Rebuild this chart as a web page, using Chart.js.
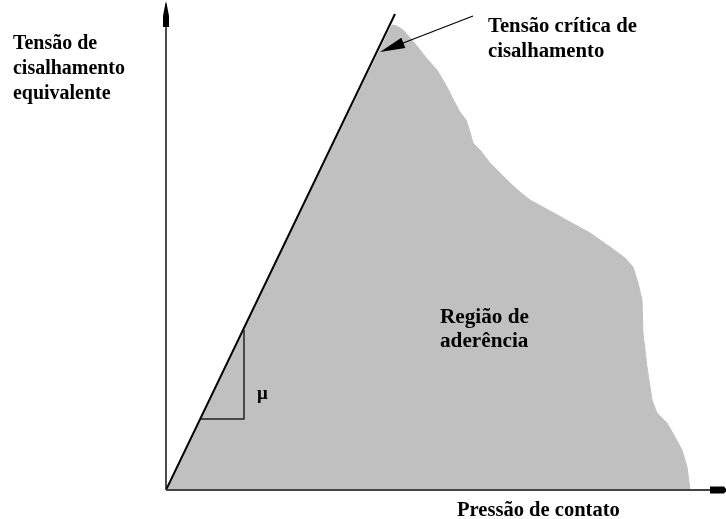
<!DOCTYPE html>
<html>
<head>
<meta charset="utf-8">
<script src="https://cdn.jsdelivr.net/npm/chart.js@4/dist/chart.umd.min.js"></script>
<style>
  html, body { margin: 0; padding: 0; background: #ffffff; }
  #wrap { width: 726px; height: 519px; }
</style>
</head>
<body>
<div id="wrap"><canvas id="c" width="726" height="519"></canvas></div>
<script>
// ---- Data (pressure = x, equivalent shear stress = y; origin at axes crossing) ----
// Upper boundary of the adhesion region
const regionPressure = [0, 226, 231, 237, 246, 254, 262, 271, 281, 289, 294, 300, 304, 307, 314, 324, 334, 344, 354, 364, 384, 404, 424, 444, 459, 467, 472, 476, 477, 481, 486, 491, 501, 509, 516, 521, 524];
const regionShear    = [0, 465, 464, 460, 450, 440, 430, 420, 403, 387, 378, 370, 358, 347, 340, 327, 317, 307, 298, 290, 279, 268, 257, 243, 232, 223, 207, 190, 157, 123, 90, 77, 67, 53, 40, 23, 0];
// Friction line tau = mu * p
const frictionPressure = [0, 229];
const frictionShear    = [0, 476];
// Slope triangle (mu)
const slopePressure = [35, 78, 78];
const slopeShear    = [71, 71, 160];
// Axis extents
const xMax = 560, yMax = 490;

// Texts
const yAxisLabel = ["Tensão de", "cisalhamento", "equivalente"];
const xAxisLabel = "Pressão de contato";
const criticalLabel = ["Tensão crítica de", "cisalhamento"];
const regionLabel = ["Região de", "aderência"];
const muLabel = "μ";

function toPts(xs, ys) { return xs.map((x, i) => ({ x: x, y: ys[i] })); }

function fitSize(ctx, text, family, width) {
  ctx.font = "bold 20px " + family;
  return 20 * width / ctx.measureText(text).width;
}

const overlay = {
  id: 'overlay',
  afterDatasetsDraw(chart) {
    const ctx = chart.ctx;
    const xs = chart.scales.x, ys = chart.scales.y;
    const X = v => xs.getPixelForValue(v), Y = v => ys.getPixelForValue(v);
    const ox = X(0), oy = Y(0);
    ctx.save();
    // y axis
    ctx.strokeStyle = '#111';
    ctx.lineWidth = 1.5;
    ctx.beginPath(); ctx.moveTo(ox, oy); ctx.lineTo(ox, Y(yMax) + 4); ctx.stroke();
    // x axis
    ctx.strokeStyle = '#444';
    ctx.lineWidth = 2;
    ctx.beginPath(); ctx.moveTo(ox, oy); ctx.lineTo(X(xMax) - 10, oy); ctx.stroke();
    // y arrow head
    ctx.fillStyle = '#000';
    const ty = Y(yMax) + 1;
    ctx.beginPath();
    ctx.moveTo(ox, ty);
    ctx.lineTo(ox + 1.5, ty + 7);
    ctx.lineTo(ox + 3, ty + 15);
    ctx.lineTo(ox + 3, ty + 26);
    ctx.lineTo(ox - 3, ty + 26);
    ctx.lineTo(ox - 3, ty + 15);
    ctx.lineTo(ox - 1.5, ty + 7);
    ctx.closePath(); ctx.fill();
    // x arrow head
    const tx = X(xMax) + 1;
    ctx.beginPath();
    ctx.moveTo(tx, oy);
    ctx.lineTo(tx - 3, oy - 3.5);
    ctx.lineTo(tx - 17, oy - 3.5);
    ctx.lineTo(tx - 17, oy + 3.5);
    ctx.lineTo(tx - 3, oy + 3.5);
    ctx.closePath(); ctx.fill();

    // pointer to critical shear stress
    const sx = 473, sy = 16, px = 380, py = 52;
    const dx = sx - px, dy = sy - py, L = Math.hypot(dx, dy);
    const ux = dx / L, uy = dy / L;
    ctx.strokeStyle = '#000'; ctx.lineWidth = 1.2;
    ctx.beginPath(); ctx.moveTo(sx, sy); ctx.lineTo(px + ux * 20, py + uy * 20); ctx.stroke();
    const bx = px + ux * 25, by = py + uy * 25;
    ctx.beginPath();
    ctx.moveTo(px, py);
    ctx.lineTo(bx - uy * 5.5, by + ux * 5.5);
    ctx.lineTo(bx + uy * 5.5, by - ux * 5.5);
    ctx.closePath(); ctx.fill();

    // texts
    ctx.fillStyle = '#000';
    ctx.textBaseline = 'alphabetic';
    ctx.textAlign = 'left';
    const serif = '"Liberation Serif"';
    let s = fitSize(ctx, yAxisLabel[1], serif, 112);
    ctx.font = 'bold ' + s + 'px ' + serif;
    yAxisLabel.forEach((t, i) => ctx.fillText(t, 13, 49 + i * 25));

    s = fitSize(ctx, criticalLabel[0], serif, 149);
    ctx.font = 'bold ' + s + 'px ' + serif;
    criticalLabel.forEach((t, i) => ctx.fillText(t, 488, 32 + i * 25));

    s = fitSize(ctx, xAxisLabel, serif, 163);
    ctx.font = 'bold ' + s + 'px ' + serif;
    ctx.fillText(xAxisLabel, 457, 516);

    s = fitSize(ctx, regionLabel[0], serif, 89);
    ctx.font = 'bold ' + s + 'px ' + serif;
    regionLabel.forEach((t, i) => ctx.fillText(t, 440, 323 + i * 24));

    ctx.font = 'bold 19px ' + serif;
    ctx.fillText(muLabel, 257, 399);
    ctx.restore();
  }
};

new Chart(document.getElementById('c'), {
  type: 'scatter',
  data: {
    datasets: [
      {
        label: 'Região de aderência',
        data: toPts(regionPressure, regionShear),
        showLine: true,
        fill: 'origin',
        backgroundColor: '#c0c0c0',
        borderColor: '#c0c0c0',
        borderWidth: 1,
        pointRadius: 0,
        tension: 0,
        order: 3
      },
      {
        label: 'slope',
        data: toPts(slopePressure, slopeShear),
        showLine: true,
        fill: false,
        borderColor: '#222',
        borderWidth: 1.5,
        pointRadius: 0,
        order: 2
      },
      {
        label: 'friction',
        data: toPts(frictionPressure, frictionShear),
        showLine: true,
        fill: false,
        borderColor: '#000',
        borderWidth: 2,
        pointRadius: 0,
        order: 1
      }
    ]
  },
  options: {
    responsive: false,
    animation: false,
    devicePixelRatio: 1,
    layout: { padding: { left: 166, right: 0, top: 0, bottom: 29 } },
    plugins: { legend: { display: false }, tooltip: { enabled: false } },
    scales: {
      x: { type: 'linear', min: 0, max: xMax, display: false },
      y: { type: 'linear', min: 0, max: yMax, display: false }
    },
    elements: { line: { borderJoinStyle: 'round' } }
  },
  plugins: [overlay]
});
</script>
</body>
</html>
